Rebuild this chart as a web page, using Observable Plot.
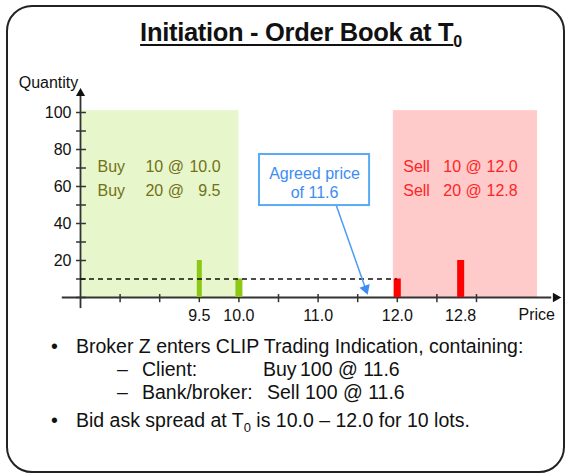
<!DOCTYPE html>
<html>
<head>
<meta charset="utf-8">
<script src="https://cdn.jsdelivr.net/npm/d3@7"></script>
<script src="https://cdn.jsdelivr.net/npm/@observablehq/plot@0.6"></script>
<style>
  html, body { margin: 0; padding: 0; background: #fff; }
  #wrap { position: relative; width: 567px; height: 476px; overflow: hidden;
          font-family: "Liberation Sans", Arial, sans-serif; color: #111; }
  #frame { position: absolute; left: 6px; top: 5px; width: 559px; height: 468px;
           box-sizing: border-box; border: 2px solid #222; border-radius: 26px; }
  #title { position: absolute; left: 0; top: 20px; width: 602px; text-align: center;
           font-size: 25.5px; line-height: 25px; font-weight: bold; letter-spacing: -0.3px;
           text-decoration: underline; text-decoration-thickness: 2px; text-underline-offset: 3px; }
  #title sub { font-size: 16px; vertical-align: -6px; line-height: 0; }
  #chart { position: absolute; left: 0; top: 0; }
  .ln { position: absolute; font-size: 19.5px; line-height: 19px; white-space: pre; }
  .ln sub { font-size: 13px; vertical-align: -5px; line-height: 0; }
</style>
</head>
<body>
<div id="wrap">
  <div id="frame"></div>
  <div id="title">Initiation - Order Book at T<sub>0</sub></div>
  <div id="chart"></div>
  <div class="ln" style="left:51px;top:337px">•</div>
  <div class="ln" style="left:76px;top:337px">Broker Z enters CLIP Trading Indication, containing:</div>
  <div class="ln" style="left:117px;top:360px">–</div>
  <div class="ln" style="left:142px;top:360px">Client:</div>
  <div class="ln" style="left:263px;top:360px">Buy</div>
  <div class="ln" style="left:300px;top:360px">100 @ 11.6</div>
  <div class="ln" style="left:117px;top:383px">–</div>
  <div class="ln" style="left:142px;top:383px">Bank/broker:</div>
  <div class="ln" style="left:267px;top:383px">Sell</div>
  <div class="ln" style="left:305px;top:383px">100 @ 11.6</div>
  <div class="ln" style="left:51px;top:411px">•</div>
  <div class="ln" style="left:76px;top:411px">Bid ask spread at T<sub>0</sub> is 10.0 – 12.0 for 10 lots.</div>
</div>
<script>
// ---- data ----
const buyPrices = [10.0, 9.5];
const buyQuantities = [10, 20];
const sellPrices = [12.0, 12.8];
const sellQuantities = [10, 20];
const agreedPrice = 11.6;
const bidAskQuantity = 10;
const yTicks = [0, 10, 20, 30, 40, 50, 60, 70, 80, 90, 100];
const yTickLabels = [20, 40, 60, 80, 100];
const xTicks = [8.5, 9.0, 9.5, 10.0, 10.5, 11.0, 11.5, 12.0, 12.5, 13.0];
const xTickLabels = [9.5, 10.0, 11.0, 12.0, 12.8];
const buyZone = [8.0, 10.0];
const sellZone = [11.95, 13.77];
const zoneTop = 101;

const buyOrders = buyPrices.map((p, i) => ({side: "Buy", price: p, qty: buyQuantities[i], row: i}));
const sellOrders = sellPrices.map((p, i) => ({side: "Sell", price: p, qty: sellQuantities[i], row: i}));
const bestBid = d3.max(buyPrices);
const bestAsk = d3.min(sellPrices);

const FONT = "Liberation Sans, Arial, sans-serif";
const AX = "#333";
const GREEN = "#8dc814";
const RED = "#ff0000";
const OLIVE = "#717116";
const RED_TXT = "#ff2424";
const BLUE = "#3d8cf4";
const rowY = r => 70.8 - r * 13;

const chart = Plot.plot({
  width: 567,
  height: 330,
  x: {domain: [8, 14], range: [80, 555.2], axis: null},
  y: {domain: [0, 100], range: [297, 112], axis: null},
  style: {fontFamily: FONT, background: "transparent", overflow: "visible"},
  marks: [
    // zones
    Plot.rect([buyZone], {x1: d => d[0], x2: d => d[1], y1: 0, y2: zoneTop, fill: "#e7f6cb"}),
    Plot.rect([sellZone], {x1: d => d[0], x2: d => d[1], y1: 0, y2: zoneTop, fill: "#ffcaca"}),
    // axes lines
    Plot.ruleX([8], {y1: -6, y2: 110, stroke: AX, strokeWidth: 1.8}),
    Plot.ruleY([0], {x1: 7.77, x2: 13.95, stroke: AX, strokeWidth: 1.8}),
    Plot.dot([[8, 110.4]], {x: d => d[0], y: d => d[1], symbol: "triangle", r: 3.4, fill: "#111", stroke: null}),
    Plot.dot([[14.0, 0]], {x: d => d[0], y: d => d[1], symbol: "triangle", r: 3.6, fill: "#111", stroke: null, rotate: 90}),
    // ticks
    Plot.ruleY(yTicks, {y: d => d, x1: 7.95, x2: 8.075, stroke: AX, strokeWidth: 1.5}),
    Plot.ruleX(xTicks, {x: d => d, y1: -2.8, y2: 1.6, stroke: AX, strokeWidth: 1.5}),
    Plot.text(yTickLabels, {x: 8, y: d => d, text: d => String(d), textAnchor: "end", dx: -9, fontSize: 16, fill: "#111"}),
    Plot.text(xTickLabels, {x: d => d, y: 0, dy: 18, text: d => d.toFixed(1), fontSize: 16, fill: "#111"}),
    Plot.text(["Quantity"], {x: 8, y: 100, dx: -32, dy: -30, text: d => d, fontSize: 16, fill: "#111"}),
    Plot.text(["Price"], {x: 14, y: 0, dx: -19, dy: 17, text: d => d, fontSize: 16, fill: "#111"}),
    // order bars
    Plot.ruleX(buyOrders, {x: "price", y1: 0, y2: "qty", stroke: GREEN, strokeWidth: d => d.price === 9.5 ? 5 : 7}),
    Plot.ruleX(sellOrders, {x: "price", y1: 0, y2: "qty", stroke: RED, strokeWidth: 7}),
    // bid/ask dashed line
    Plot.ruleY([bidAskQuantity], {x1: 8, x2: bestAsk, stroke: "#111", strokeWidth: 1.5, strokeDasharray: "5,4"}),
    // order book text
    Plot.text(buyOrders, {x: 8.215, y: d => rowY(d.row), text: "side", textAnchor: "start", fontSize: 16, fill: OLIVE}),
    Plot.text(buyOrders, {x: 8.82, y: d => rowY(d.row), text: d => `${d.qty} @`, textAnchor: "start", fontSize: 16, fill: OLIVE}),
    Plot.text(buyOrders, {x: 9.768, y: d => rowY(d.row), text: d => d.price.toFixed(1), textAnchor: "end", fontSize: 16, fill: OLIVE}),
    Plot.text(sellOrders, {x: 12.075, y: d => rowY(d.row), text: "side", textAnchor: "start", fontSize: 16, fill: RED_TXT}),
    Plot.text(sellOrders, {x: 12.58, y: d => rowY(d.row), text: d => `${d.qty} @`, textAnchor: "start", fontSize: 16, fill: RED_TXT}),
    Plot.text(sellOrders, {x: 13.52, y: d => rowY(d.row), text: d => d.price.toFixed(1), textAnchor: "end", fontSize: 16, fill: RED_TXT}),
    // agreed price callout
    Plot.link([agreedPrice], {x1: 11.23, y1: 49.7, x2: d => d, y2: 4.7, stroke: "#4a9cf6", strokeWidth: 1.5}),
    Plot.dot([agreedPrice], {x: d => d, y: 4.7, symbol: "triangle", r: 4, fill: "#3d8cf4", stroke: null, rotate: 160.7}),
    Plot.rect([agreedPrice], {x1: 10.26, x2: 11.65, y1: 49.7, y2: 77.3, fill: "white", stroke: "#5aaaf5", strokeWidth: 2}),
    Plot.text([`Agreed price`, `of ${agreedPrice}`], {x: 10.955, y: (d, i) => i === 0 ? 67 : 56.6, text: d => d, fontSize: 16, fill: BLUE})
  ]
});
document.getElementById("chart").appendChild(chart);
</script>
</body>
</html>
